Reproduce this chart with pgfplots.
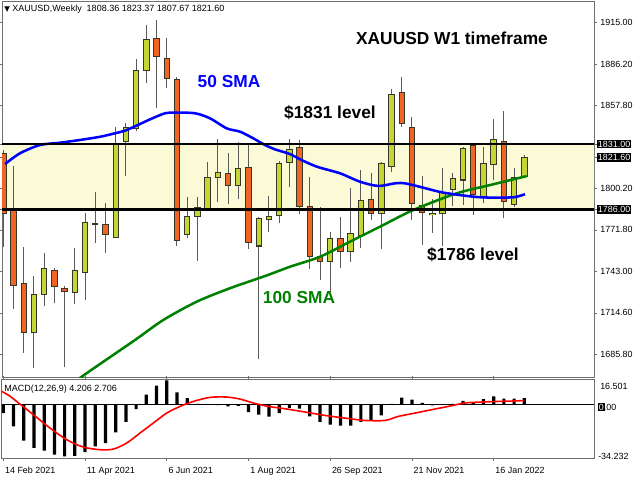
\documentclass[border=0pt]{standalone}
\usepackage{pgfplots}
\pgfplotsset{compat=1.18}
\usepackage{pgfplotstable}
\usepackage{fontspec}
\setmainfont{Liberation Sans}
\newfontfamily\dejavu{DejaVu Sans}

\definecolor{bull}{RGB}{196,214,54}
\definecolor{bear}{RGB}{240,100,36}
\definecolor{band}{RGB}{250,250,214}
\definecolor{smagreen}{RGB}{0,128,0}
\definecolor{frm}{RGB}{110,110,110}
\definecolor{wick}{RGB}{90,90,90}
\definecolor{outl}{RGB}{55,55,40}

\pgfplotstableread{
i o h l c
0 1824.6 1827.0 1760.2 1783.2
1 1785.0 1816.0 1717.1 1733.8
2 1735.0 1759.8 1687.2 1701.0
3 1701.0 1740.0 1676.4 1727.0
4 1727.5 1755.7 1719.4 1744.9
5 1743.5 1745.7 1721.2 1732.7
6 1731.3 1733.1 1677.5 1729.2
7 1728.5 1759.1 1720.7 1743.5
8 1742.3 1783.7 1723.5 1776.8
9 1776.4 1798.1 1763.0 1775.8
10 1775.2 1790.1 1755.7 1768.8
11 1766.4 1842.9 1766.0 1830.8
12 1832.6 1845.3 1809.0 1842.5
13 1841.8 1889.4 1840.0 1881.5
14 1881.5 1913.0 1872.8 1903.2
15 1903.8 1916.5 1855.6 1891.6
16 1890.1 1903.8 1869.4 1876.3
17 1875.6 1877.0 1760.7 1764.4
18 1768.3 1794.7 1766.0 1780.9
19 1780.9 1794.7 1750.6 1787.4
20 1786.0 1818.4 1785.0 1808.1
21 1808.1 1834.2 1791.2 1811.5
22 1810.8 1824.6 1789.6 1802.1
23 1802.3 1832.6 1792.9 1814.3
24 1814.7 1831.0 1758.4 1763.3
25 1760.7 1781.0 1682.6 1779.8
26 1779.3 1795.0 1770.6 1781.2
27 1781.6 1819.0 1776.3 1817.7
28 1818.1 1834.2 1801.6 1827.3
29 1828.5 1834.0 1782.5 1787.8
30 1787.8 1808.5 1744.6 1753.3
31 1753.8 1787.3 1737.3 1749.9
32 1749.9 1770.6 1729.2 1766.0
33 1766.0 1781.0 1745.3 1756.8
34 1756.8 1800.5 1749.9 1769.0
35 1768.0 1813.1 1759.2 1792.4
36 1792.9 1810.8 1778.6 1783.2
37 1783.2 1818.8 1758.5 1817.7
38 1815.8 1868.7 1811.9 1864.8
39 1866.4 1877.4 1842.9 1845.3
40 1842.5 1849.4 1778.6 1790.1
41 1788.5 1809.0 1761.4 1783.9
42 1782.2 1792.9 1769.9 1783.0
43 1783.0 1814.3 1760.6 1797.4
44 1799.8 1811.0 1788.0 1807.4
45 1806.2 1829.1 1789.0 1828.0
46 1830.3 1830.8 1782.0 1795.9
47 1794.7 1829.1 1790.1 1817.7
48 1817.0 1848.0 1806.2 1834.2
49 1832.6 1853.7 1779.8 1791.7
50 1789.4 1814.3 1787.8 1807.8
51 1808.36 1823.37 1807.67 1821.60
}\candles

\pgfplotstableread{
x v
0.17 1817.2
1.63 1824.6
3.59 1830.3
5.55 1831.9
7.51 1833.8
9.47 1836.0
10.93 1838.4
11.91 1840.2
13.38 1844.8
14.36 1848.0
15.83 1852.2
16.81 1852.6
18.76 1852.2
20.23 1848.7
21.87 1841.8
23.17 1839.5
24.47 1834.9
25.62 1830.3
26.60 1827.3
28.06 1824.1
29.04 1820.5
30.68 1815.4
32.96 1810.8
34.92 1805.0
36.71 1802.1
38.34 1803.9
39.32 1803.9
41.11 1800.9
43.07 1797.5
46.00 1794.7
47.64 1794.1
49.92 1794.3
51.07 1796.4
}\smafifty

\pgfplotstableread{
x v
7.00 1666.0
7.67 1670.6
12.89 1695.9
15.66 1709.7
18.93 1722.3
22.19 1731.6
25.62 1740.0
28.06 1746.4
31.00 1753.3
33.94 1763.7
36.87 1774.0
40.13 1785.5
44.38 1797.0
47.64 1802.7
51.23 1808.9
}\smahundred

\pgfplotstableread{
i m
0 -5.4
1 -13.9
2 -23.1
3 -27.8
4 -29.5
5 -32.1
6 -33.2
7 -32.8
8 -30.4
9 -26.8
10 -24.6
11 -17.8
12 -11.1
13 -2.8
14 6.4
15 12.2
16 15.6
17 7.9
18 4.3
19 0.6
20 0.2
21 -0.3
22 -1.1
23 -0.8
24 -4.7
25 -6.4
26 -7.7
27 -5.4
28 -2.1
29 -2.6
30 -7.5
31 -11.1
32 -12.8
33 -13.5
34 -13.5
35 -11.1
36 -10.3
37 -6.9
38 0.6
39 4.5
40 3.2
41 1.1
42 -0.5
43 0.1
44 0.6
45 2.4
46 1.5
47 3.6
48 5.4
49 3.9
50 3.9
51 4.2
}\hist

\pgfplotstableread{
x s
-0.16 8.6
0.66 5.4
1.63 0.4
2.94 -6.4
4.57 -15.0
6.21 -22.5
7.83 -27.2
9.47 -28.9
10.77 -28.5
12.08 -24.6
13.38 -18.2
14.68 -11.8
15.99 -5.4
17.30 -1.1
18.60 2.1
20.23 4.7
21.87 4.9
23.17 3.6
24.47 1.1
25.94 -1.1
27.57 -2.6
29.53 -4.7
31.49 -6.9
33.45 -8.6
35.40 -10.1
37.36 -10.1
38.67 -7.5
40.30 -5.4
41.93 -3.2
43.56 -1.1
45.19 1.1
46.83 1.7
48.45 2.1
50.09 2.4
51.00 2.7
}\signal

\begin{document}
\begin{tikzpicture}[x=0.75pt,y=0.75pt]
\useasboundingbox (0,0) rectangle (640,480);

% ---------------- main price panel ----------------
\begin{axis}[
  at={(1.5pt,77.25pt)}, anchor=south west,
  width=444pt, height=281.25pt, scale only axis,
  xmin=-0.13, xmax=57.82,
  ymin=1670.4, ymax=1928.9,
  axis line style={frm, line width=0.75pt},
  xtick=\empty,
  ytick={1685.8,1714.6,1743.0,1771.8,1800.2,1857.8,1886.2,1915.0},
  yticklabel pos=right,
  tick align=outside,
  major tick length=2.25pt,
  tick style={frm, line width=0.5pt},
  /pgf/number format/assume math mode=true,
  /pgf/number format/fixed,
  /pgf/number format/fixed zerofill,
  /pgf/number format/precision=2,
  /pgf/number format/1000 sep={},
  yticklabel style={font=\fontsize{6.7}{7}\selectfont, xshift=-1pt},
  extra y ticks={1786,1821.6,1831},
  extra y tick style={yticklabel style={fill=black, text=white, inner sep=0.9pt, xshift=0.6pt}},
]
\addplot[fill=band, draw=none] coordinates {(-1,1786) (60,1786) (60,1831) (-1,1831)} -- cycle;
% wicks
\addplot[quiver={u={0}, v={\thisrow{h}-\thisrow{l}}}, draw=wick, line width=0.75pt] table[x=i, y=l] {\candles};
% body outlines
\addplot[quiver={u={0}, v={abs(\thisrow{c}-\thisrow{o})+0.7}}, draw=outl, line width=4.8pt] table[x=i, y expr={min(\thisrow{o},\thisrow{c})-0.35}] {\candles};
% bull bodies
\addplot[quiver={u={0}, v={max(abs(\thisrow{c}-\thisrow{o})-0.7,0)}}, draw=bull, line width=3.3pt,
  restrict expr to domain={\thisrow{c}-\thisrow{o}}{0:1000}] table[x=i, y expr={min(\thisrow{o},\thisrow{c})+0.35}] {\candles};
% bear bodies
\addplot[quiver={u={0}, v={max(abs(\thisrow{c}-\thisrow{o})-0.7,0)}}, draw=bear, line width=3.3pt,
  restrict expr to domain={\thisrow{c}-\thisrow{o}}{-1000:0}] table[x=i, y expr={min(\thisrow{o},\thisrow{c})+0.35}] {\candles};
% moving averages
\addplot[smagreen, line width=1.9pt, smooth] table[x=x, y=v] {\smahundred};
\addplot[blue, line width=1.9pt, smooth] table[x=x, y=v] {\smafifty};
% support / resistance
\addplot[black, line width=2pt] coordinates {(-1,1831) (60,1831)};
\addplot[black, line width=2pt] coordinates {(-1,1786) (60,1786)};
\end{axis}

% ---------------- MACD panel ----------------
\begin{axis}[
  at={(1.5pt,16.5pt)}, anchor=south west,
  width=444pt, height=59.25pt, scale only axis,
  xmin=-0.13, xmax=57.82,
  ymin=-34.232, ymax=16.501,
  axis line style={frm, line width=0.75pt},
  ytick=\empty,
  xtick={0,8,16,24,32,40,48},
  xticklabels={14 Feb 2021,11 Apr 2021,6 Jun 2021,1 Aug 2021,26 Sep 2021,21 Nov 2021,16 Jan 2022},
  xticklabel style={anchor=north west, xshift=-2.2pt, yshift=-1.2pt, font=\fontsize{6.7}{7}\selectfont},
  tick align=outside,
  major tick length=2.25pt,
  tick style={frm, line width=0.5pt},
]
\addplot[ybar, bar width=2.4pt, fill=black, draw=none] table[x=i, y=m] {\hist};
\addplot[black, line width=0.75pt] coordinates {(-1,0) (60,0)};
\addplot[red, line width=1.2pt, smooth] table[x=x, y=s] {\signal};
\end{axis}

% ---------------- texts ----------------
\node[anchor=west, inner sep=0pt, font=\fontsize{6.75}{7}\selectfont] at (4,471) {{\dejavu\fontsize{5.5}{6}\selectfont ▼}\ XAUUSD,Weekly\ \ 1808.36 1823.37 1807.67 1821.60};
\node[anchor=west, inner sep=0pt, font=\fontsize{6.75}{7}\selectfont] at (4,91) {MACD(12,26,9) 4.206 2.706};
\node[anchor=west, inner sep=0pt, font=\fontsize{6.7}{7}\selectfont] at (600,93.5) {16.501};
\node[anchor=west, inner sep=0pt, font=\fontsize{6.7}{7}\selectfont] at (598,73) {\setlength{\fboxsep}{0.5pt}\colorbox{black}{\textcolor{white}{0}}\hspace{-0.5pt}.00};
\node[anchor=west, inner sep=0pt, font=\fontsize{6.7}{7}\selectfont] at (598,23.5) {-34.232};

\node[font=\bfseries\fontsize{13}{13}\selectfont] at (452,442) {XAUUSD W1 timeframe};
\node[font=\bfseries\fontsize{13}{13}\selectfont, text=blue] at (229,398) {50 SMA};
\node[font=\bfseries\fontsize{13}{13}\selectfont] at (330,367) {\$1831 level};
\node[font=\bfseries\fontsize{13}{13}\selectfont] at (473,225.5) {\$1786 level};
\node[font=\bfseries\fontsize{13}{13}\selectfont, text=smagreen] at (299,182.5) {100 SMA};
\end{tikzpicture}
\end{document}
